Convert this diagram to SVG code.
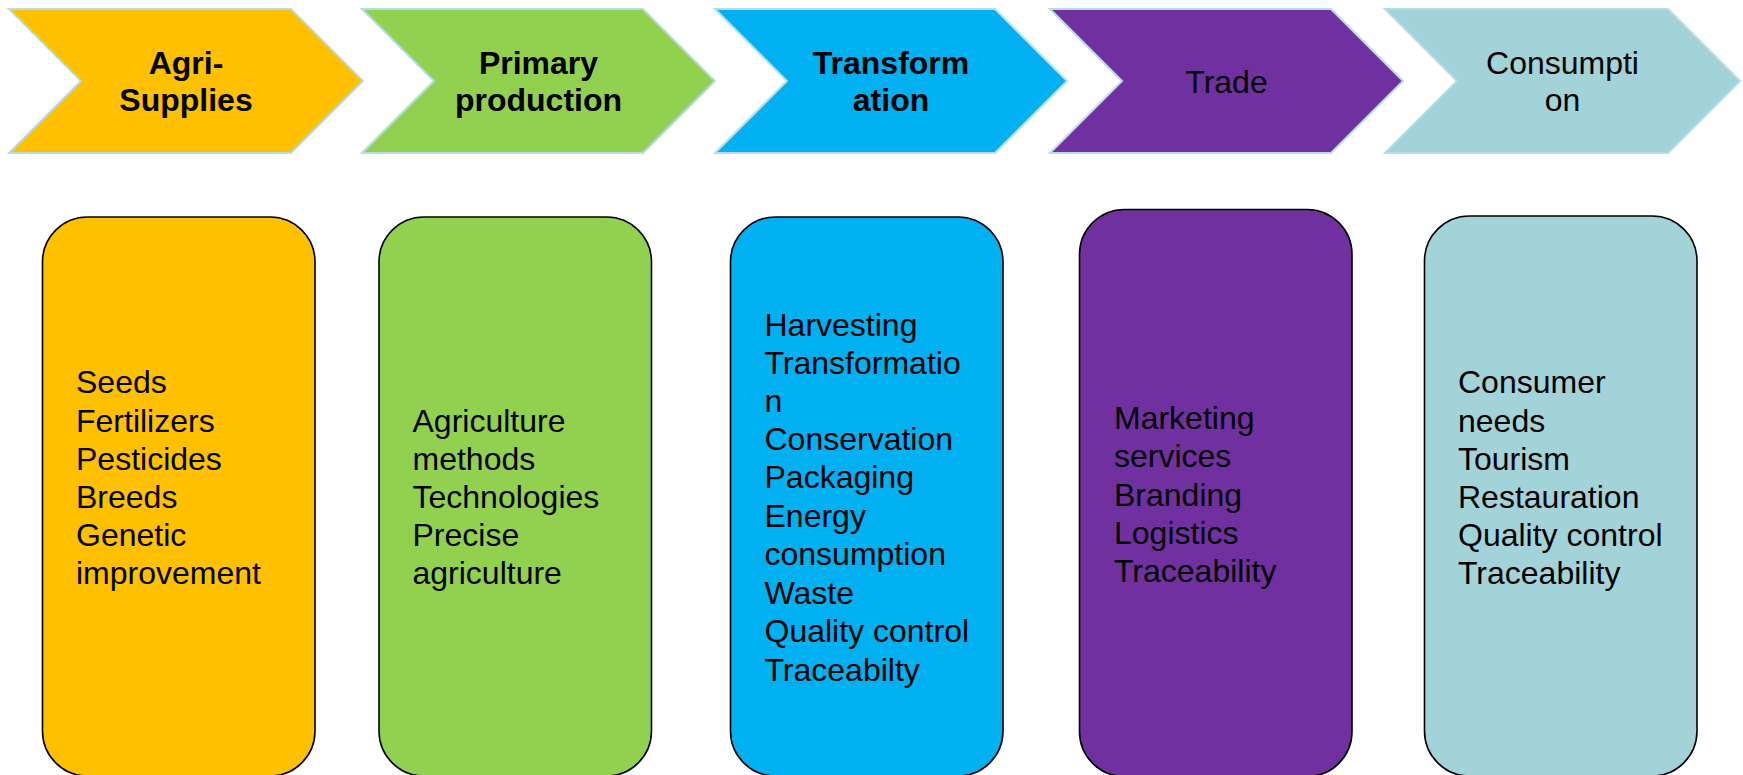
<svg xmlns="http://www.w3.org/2000/svg" width="1743" height="775" viewBox="0 0 1743 775">
<style>
.chev{stroke:#B7DDE4;stroke-width:2;stroke-linejoin:miter}
.box{stroke:#000;stroke-width:1.6}
text{font-family:"Liberation Sans",Arial,sans-serif;font-size:32px;fill:#000}
.h{text-anchor:middle}
.b{font-weight:bold}
.y{fill:#FFC000}.g{fill:#92D050}.c{fill:#00B0F0}.p{fill:#7030A0}.t{fill:#A1D3D9}
</style>
<rect x="0" y="0" width="1743" height="775" fill="#fff"/>
<g id="connectors"/>
<g id="stage-agri-supplies">
<polygon class="chev y" points="9,9 291,9 363,81 291,153 9,153 81,81"/>
<text class="h b" x="186" y="74">Agri-</text>
<text class="h b" x="186" y="111">Supplies</text>
</g>
<g id="stage-primary-production">
<polygon class="chev g" points="362,9 643,9 715,81 643,153 362,153 434,81"/>
<text class="h b" x="538.5" y="74">Primary</text>
<text class="h b" x="538.5" y="111">production</text>
</g>
<g id="stage-transformation">
<polygon class="chev c" points="715,9 995,9 1067,81 995,153 715,153 787,81"/>
<text class="h b" x="891" y="74">Transform</text>
<text class="h b" x="891" y="111">ation</text>
</g>
<g id="stage-trade">
<polygon class="chev p" points="1050,9 1331,9 1403,81 1331,153 1050,153 1122,81"/>
<text class="h" x="1226.5" y="92.5">Trade</text>
</g>
<g id="stage-consumption">
<polygon class="chev t" points="1385,9 1668,9 1740,81 1668,153 1385,153 1457,81"/>
<text class="h" x="1562.5" y="74">Consumpti</text>
<text class="h" x="1562.5" y="111">on</text>
</g>
<g id="box-agri-supplies">
<rect class="box y" x="42.5" y="217" width="272.5" height="559" rx="45" ry="45"/>
<text x="76" y="393">Seeds</text>
<text x="76" y="431.5">Fertilizers</text>
<text x="76" y="470">Pesticides</text>
<text x="76" y="508">Breeds</text>
<text x="76" y="546">Genetic</text>
<text x="76" y="584">improvement</text>
</g>
<g id="box-primary-production">
<rect class="box g" x="379" y="217" width="272.5" height="559" rx="45" ry="45"/>
<text x="412.5" y="431.5">Agriculture</text>
<text x="412.5" y="470">methods</text>
<text x="412.5" y="508">Technologies</text>
<text x="412.5" y="546">Precise</text>
<text x="412.5" y="584">agriculture</text>
</g>
<g id="box-transformation">
<rect class="box c" x="730.5" y="217" width="272.5" height="559" rx="45" ry="45"/>
<text x="764.5" y="336">Harvesting</text>
<text x="764.5" y="374">Transformatio</text>
<text x="764.5" y="412">n</text>
<text x="764.5" y="450">Conservation</text>
<text x="764.5" y="488">Packaging</text>
<text x="764.5" y="527">Energy</text>
<text x="764.5" y="565">consumption</text>
<text x="764.5" y="604">Waste</text>
<text x="764.5" y="642">Quality control</text>
<text x="764.5" y="680.5">Traceabilty</text>
</g>
<g id="box-trade">
<rect class="box p" x="1079.5" y="209.5" width="272.5" height="567" rx="45" ry="45"/>
<text x="1114" y="429">Marketing</text>
<text x="1114" y="467">services</text>
<text x="1114" y="505.5">Branding</text>
<text x="1114" y="544">Logistics</text>
<text x="1114" y="582">Traceability</text>
</g>
<g id="box-consumption">
<rect class="box t" x="1424.5" y="216" width="272.5" height="560" rx="45" ry="45"/>
<text x="1458" y="393">Consumer</text>
<text x="1458" y="431.5">needs</text>
<text x="1458" y="470">Tourism</text>
<text x="1458" y="508">Restauration</text>
<text x="1458" y="546">Quality control</text>
<text x="1458" y="584">Traceability</text>
</g>
</svg>
